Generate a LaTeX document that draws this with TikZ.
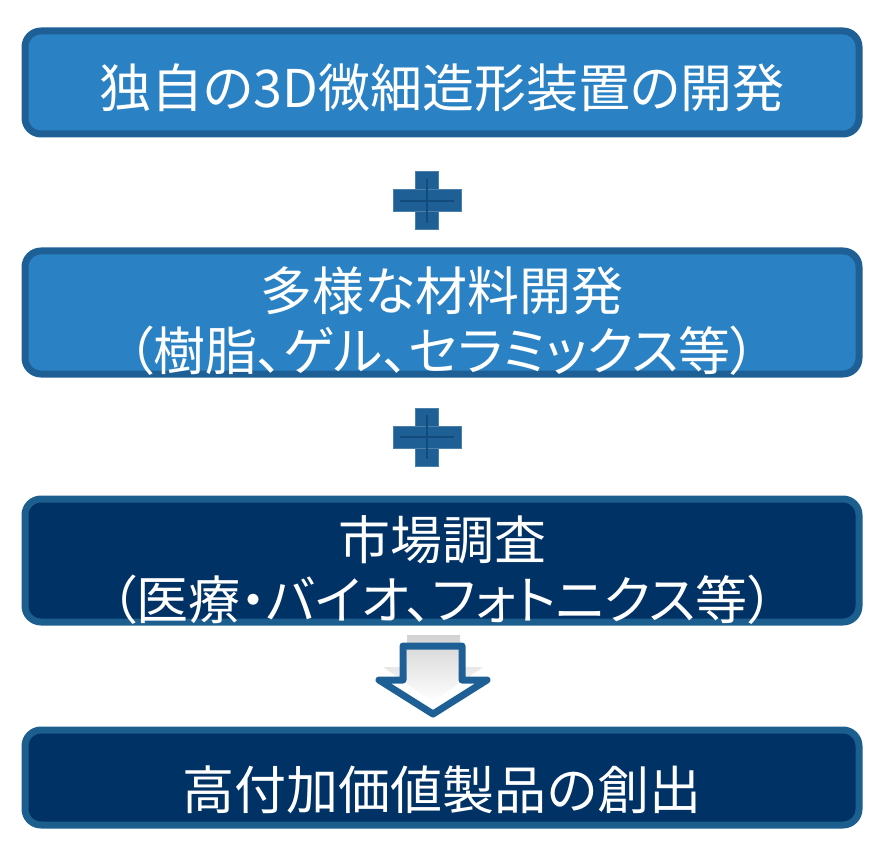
\documentclass[tikz,border=0pt]{standalone}
\usepackage{fontspec}
\newfontfamily\jp[RawFeature=+palt]{Noto Sans CJK JP}
\definecolor{midblue}{RGB}{42,130,197}
\definecolor{midedge}{RGB}{30,96,150}
\definecolor{navy}{RGB}{0,50,102}
\definecolor{navyedge}{RGB}{28,94,142}
\definecolor{plusdark}{RGB}{20,75,125}
\begin{document}
\begin{tikzpicture}[x=1pt,y=-1pt,
  box/.style={rounded corners=16pt,line width=7pt},
  lightbox/.style={box,fill=midblue,draw=midedge},
  darkbox/.style={box,fill=navy,draw=navyedge},
  label/.style={text=white,font=\jp\fontsize{52}{60}\selectfont,align=center,inner sep=0pt},
  plusbar/.style={fill=midedge,draw=midedge!80!white,line width=1pt}]
\useasboundingbox (0,0) rectangle (884,853);
% boxes
\draw[lightbox] (25,31) rectangle (859,134);
\node[label] (b1) at (442,88) {独自の3D微細造形装置の開発};
\draw[lightbox] (25,251) rectangle (859,374);
\node[label] (b2) at (442,321) {多様な材料開発\\（樹脂、ゲル、セラミックス等）};
\draw[darkbox] (25,499) rectangle (859,622);
\node[label] (b3) at (442,570) {市場調査\\（医療・バイオ、フォトニクス等）};
\draw[darkbox] (25,730) rectangle (859,825);
\node[label] (b4) at (442,790) {高付加価値製品の創出};
% plus signs
\foreach \cy in {201,437}{
  \fill[plusbar] (415,\cy-29) rectangle (438,\cy+29);
  \fill[plusbar] (393,\cy-11) rectangle (461,\cy+11);
  \draw[plusdark,line width=2pt] (426.5,\cy-22) -- (426.5,\cy+22);
  \draw[plusdark,line width=2pt] (400,\cy) -- (454,\cy);
}
% arrow
\shade[top color=gray!35,bottom color=white]
  (407,635) -- (460,635) -- (460,667) -- (483,667) -- (433,702) -- (383,667) -- (407,667) -- cycle;
\draw[midedge,line width=7pt,line join=round]
  (403,646) -- (462,646) -- (462,680) -- (487,680) -- (433,714) -- (379,680) -- (403,680) -- cycle;
\end{tikzpicture}
\end{document}
